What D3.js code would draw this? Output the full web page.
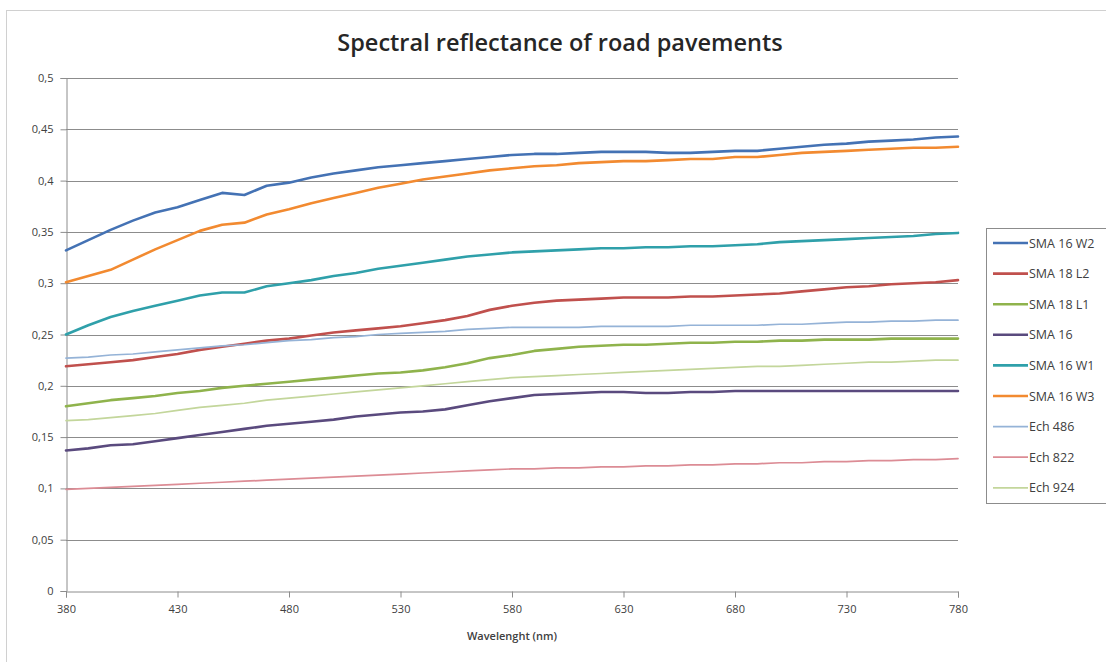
<!DOCTYPE html>
<html>
<head>
<meta charset="utf-8">
<script src="https://cdn.jsdelivr.net/npm/d3@7"></script>
<style>
  html, body { margin: 0; padding: 0; background: #fff; overflow: hidden; }
  svg { display: block; }
</style>
</head>
<body>
<svg id="chart" width="1106" height="662"></svg>
<script>
// Wavelengths sampled every 10 nm
const wavelengths = d3.range(380, 781, 10);

const seriesNames = ["SMA 16 W2", "SMA 18 L2", "SMA 18 L1", "SMA 16", "SMA 16 W1", "SMA 16 W3", "Ech 486", "Ech 822", "Ech 924"];

const sma16w2 = [0.332,0.342,0.352,0.361,0.369,0.374,0.381,0.388,0.386,0.395,0.398,0.403,0.407,0.410,0.413,0.415,0.417,0.419,0.421,0.423,0.425,0.426,0.426,0.427,0.428,0.428,0.428,0.427,0.427,0.428,0.429,0.429,0.431,0.433,0.435,0.436,0.438,0.439,0.440,0.442,0.443];
const sma18l2 = [0.219,0.221,0.223,0.225,0.228,0.231,0.235,0.238,0.241,0.244,0.246,0.249,0.252,0.254,0.256,0.258,0.261,0.264,0.268,0.274,0.278,0.281,0.283,0.284,0.285,0.286,0.286,0.286,0.287,0.287,0.288,0.289,0.290,0.292,0.294,0.296,0.297,0.299,0.300,0.301,0.303];
const sma18l1 = [0.180,0.183,0.186,0.188,0.190,0.193,0.195,0.198,0.200,0.202,0.204,0.206,0.208,0.210,0.212,0.213,0.215,0.218,0.222,0.227,0.230,0.234,0.236,0.238,0.239,0.240,0.240,0.241,0.242,0.242,0.243,0.243,0.244,0.244,0.245,0.245,0.245,0.246,0.246,0.246,0.246];
const sma16 = [0.137,0.139,0.142,0.143,0.146,0.149,0.152,0.155,0.158,0.161,0.163,0.165,0.167,0.170,0.172,0.174,0.175,0.177,0.181,0.185,0.188,0.191,0.192,0.193,0.194,0.194,0.193,0.193,0.194,0.194,0.195,0.195,0.195,0.195,0.195,0.195,0.195,0.195,0.195,0.195,0.195];
const sma16w1 = [0.250,0.259,0.267,0.273,0.278,0.283,0.288,0.291,0.291,0.297,0.300,0.303,0.307,0.310,0.314,0.317,0.320,0.323,0.326,0.328,0.330,0.331,0.332,0.333,0.334,0.334,0.335,0.335,0.336,0.336,0.337,0.338,0.340,0.341,0.342,0.343,0.344,0.345,0.346,0.348,0.349];
const sma16w3 = [0.301,0.307,0.313,0.323,0.333,0.342,0.351,0.357,0.359,0.367,0.372,0.378,0.383,0.388,0.393,0.397,0.401,0.404,0.407,0.410,0.412,0.414,0.415,0.417,0.418,0.419,0.419,0.420,0.421,0.421,0.423,0.423,0.425,0.427,0.428,0.429,0.430,0.431,0.432,0.432,0.433];
const ech486 = [0.227,0.228,0.230,0.231,0.233,0.235,0.237,0.239,0.240,0.242,0.244,0.245,0.247,0.248,0.250,0.251,0.252,0.253,0.255,0.256,0.257,0.257,0.257,0.257,0.258,0.258,0.258,0.258,0.259,0.259,0.259,0.259,0.260,0.260,0.261,0.262,0.262,0.263,0.263,0.264,0.264];
const ech822 = [0.099,0.100,0.101,0.102,0.103,0.104,0.105,0.106,0.107,0.108,0.109,0.110,0.111,0.112,0.113,0.114,0.115,0.116,0.117,0.118,0.119,0.119,0.120,0.120,0.121,0.121,0.122,0.122,0.123,0.123,0.124,0.124,0.125,0.125,0.126,0.126,0.127,0.127,0.128,0.128,0.129];
const ech924 = [0.166,0.167,0.169,0.171,0.173,0.176,0.179,0.181,0.183,0.186,0.188,0.190,0.192,0.194,0.196,0.198,0.200,0.202,0.204,0.206,0.208,0.209,0.210,0.211,0.212,0.213,0.214,0.215,0.216,0.217,0.218,0.219,0.219,0.220,0.221,0.222,0.223,0.223,0.224,0.225,0.225];

const seriesValues = [sma16w2, sma18l2, sma18l1, sma16, sma16w1, sma16w3, ech486, ech822, ech924];
const seriesColors = ["#4472b4", "#c0504d", "#8fb34c", "#5a4a7e", "#2fa0aa", "#f28a30", "#95b3d7", "#dc8c95", "#c3d69b"];
const seriesWidths = [2.6, 2.6, 2.6, 2.6, 2.6, 2.6, 1.7, 1.7, 1.7];

const xTicks = [380, 430, 480, 530, 580, 630, 680, 730, 780];
const yTicks = [0, 0.05, 0.1, 0.15, 0.2, 0.25, 0.3, 0.35, 0.4, 0.45, 0.5];

const chartTitle = "Spectral reflectance of road pavements";
const xTitle = "Wavelenght (nm)";

const svg = d3.select("#chart");
const font = "'Open Sans', 'Liberation Sans', sans-serif";

// Outer chart frame (runs off the right and bottom edges)
svg.append("rect")
  .attr("x", 6.5).attr("y", 10.5)
  .attr("width", 1120).attr("height", 660)
  .attr("fill", "#fff").attr("stroke", "#d0d0d0");

const plot = { left: 66, right: 958, top: 78, bottom: 591 };

const x = d3.scaleLinear().domain([380, 780]).range([plot.left, plot.right]);
const y = d3.scaleLinear().domain([0, 0.5]).range([plot.bottom, plot.top]);

const fmt = d => d3.format("")(d).replace(".", ",");

// Horizontal gridlines
svg.append("g")
  .selectAll("line")
  .data(yTicks.filter(t => t > 0))
  .join("line")
  .attr("x1", plot.left).attr("x2", plot.right)
  .attr("y1", d => Math.round(y(d)) + 0.5).attr("y2", d => Math.round(y(d)) + 0.5)
  .attr("stroke", "#8c8c8c").attr("stroke-width", 1);

// Y axis
const yAxis = svg.append("g")
  .attr("transform", `translate(${plot.left + 0.5},0)`)
  .call(d3.axisLeft(y).tickValues(yTicks).tickFormat(fmt).tickSize(6).tickPadding(7));
yAxis.select(".domain").attr("stroke", "#8c8c8c");
yAxis.selectAll(".tick line").attr("stroke", "#8c8c8c");
yAxis.selectAll("text")
  .attr("font-family", font).attr("font-size", 11).attr("fill", "#404040");

// X axis
const xAxis = svg.append("g")
  .attr("transform", `translate(0,${Math.round(plot.bottom) + 0.5})`)
  .call(d3.axisBottom(x).tickValues(xTicks).tickFormat(d3.format("d")).tickSize(6).tickPadding(8));
xAxis.select(".domain").attr("stroke", "#8c8c8c");
xAxis.selectAll(".tick line").attr("stroke", "#8c8c8c");
xAxis.selectAll("text")
  .attr("font-family", font).attr("font-size", 11).attr("fill", "#404040");

// Series lines
const line = d3.line()
  .x((d, i) => x(wavelengths[i]))
  .y(d => y(d));

svg.append("g")
  .selectAll("path")
  .data(seriesValues)
  .join("path")
  .attr("d", d => line(d))
  .attr("fill", "none")
  .attr("stroke", (d, i) => seriesColors[i])
  .attr("stroke-width", (d, i) => seriesWidths[i])
  .attr("stroke-linejoin", "round")
  .attr("stroke-linecap", "round");

// Titles
svg.append("text")
  .attr("x", 560).attr("y", 51)
  .attr("text-anchor", "middle")
  .attr("font-family", font).attr("font-weight", 600).attr("font-size", 23.5)
  .attr("fill", "#262626")
  .text(chartTitle);

svg.append("text")
  .attr("x", 512).attr("y", 640)
  .attr("text-anchor", "middle")
  .attr("font-family", font).attr("font-weight", 600).attr("font-size", 11)
  .attr("fill", "#404040")
  .text(xTitle);

// Legend (box runs off the right edge)
const legend = svg.append("g");
legend.append("rect")
  .attr("x", 986.5).attr("y", 228.5)
  .attr("width", 150).attr("height", 275)
  .attr("fill", "#fff").attr("stroke", "#8c8c8c");

const entries = legend.selectAll("g.entry")
  .data(seriesNames)
  .join("g")
  .attr("class", "entry")
  .attr("transform", (d, i) => `translate(0,${243 + i * 30.6})`);

entries.append("line")
  .attr("x1", 993).attr("x2", 1028)
  .attr("stroke", (d, i) => seriesColors[i])
  .attr("stroke-width", (d, i) => seriesWidths[i]);

entries.append("text")
  .attr("x", 1029).attr("y", 4.5)
  .attr("font-family", font).attr("font-size", 12.5)
  .attr("fill", "#404040")
  .text(d => d);
</script>
</body>
</html>
